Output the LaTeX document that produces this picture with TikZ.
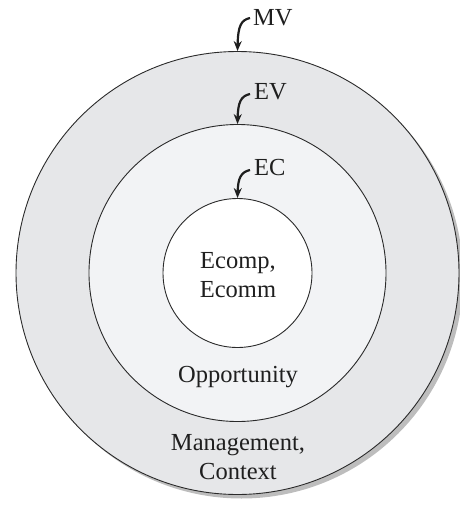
\documentclass[tikz,border=0pt]{standalone}
\usepackage{fontspec}
\setmainfont{Liberation Serif}
\usetikzlibrary{arrows.meta}
\definecolor{outerfill}{HTML}{E6E7E9}
\definecolor{midfill}{HTML}{F2F3F5}
\definecolor{shadowc}{HTML}{BDBDBD}
\definecolor{linec}{HTML}{2A2A2A}
\begin{document}
\begin{tikzpicture}[x=1pt,y=-1pt,
  ring/.style={circle,draw=linec,line width=0.9pt,inner sep=0pt},
  lbl/.style={font=\fontsize{24.5}{29}\selectfont,text=black!88,inner sep=0pt,align=center},
  hook/.style={line width=2.2pt,black!88,-{Stealth[length=10pt,width=8pt]}}
]
\useasboundingbox (0,0) rectangle (459,506);
\node[circle,fill=shadowc,minimum size=443pt,inner sep=0pt] (shadow) at (241.5,277) {};
\node[ring,fill=outerfill,minimum size=443pt] (outer) at (237.5,273) {};
\node[ring,fill=midfill,minimum size=297pt] (mid) at (237.5,273) {};
\node[ring,fill=white,minimum size=149pt] (inner) at (237.5,273) {};
\node[lbl] (core) at (238,275) {Ecomp,\\Ecomm};
\node[lbl] (opp) at (238,377) {Opportunity};
\node[lbl] (mgmt) at (238,457) {Management,\\Context};
\node[lbl,anchor=west] (mv) at (253,18) {MV};
\node[lbl,anchor=west] (ev) at (254,92) {EV};
\node[lbl,anchor=west] (ec) at (254,168) {EC};
\coordinate (mvs) at (250,18);
\coordinate (evs) at (250,94);
\coordinate (ecs) at (250,170);
\draw[hook] (mvs) .. controls (241,20) and (238,26) .. (outer.north);
\draw[hook] (evs) .. controls (241,96) and (238,102) .. (mid.north);
\draw[hook] (ecs) .. controls (241,172) and (238,178) .. (inner.north);
\end{tikzpicture}
\end{document}
